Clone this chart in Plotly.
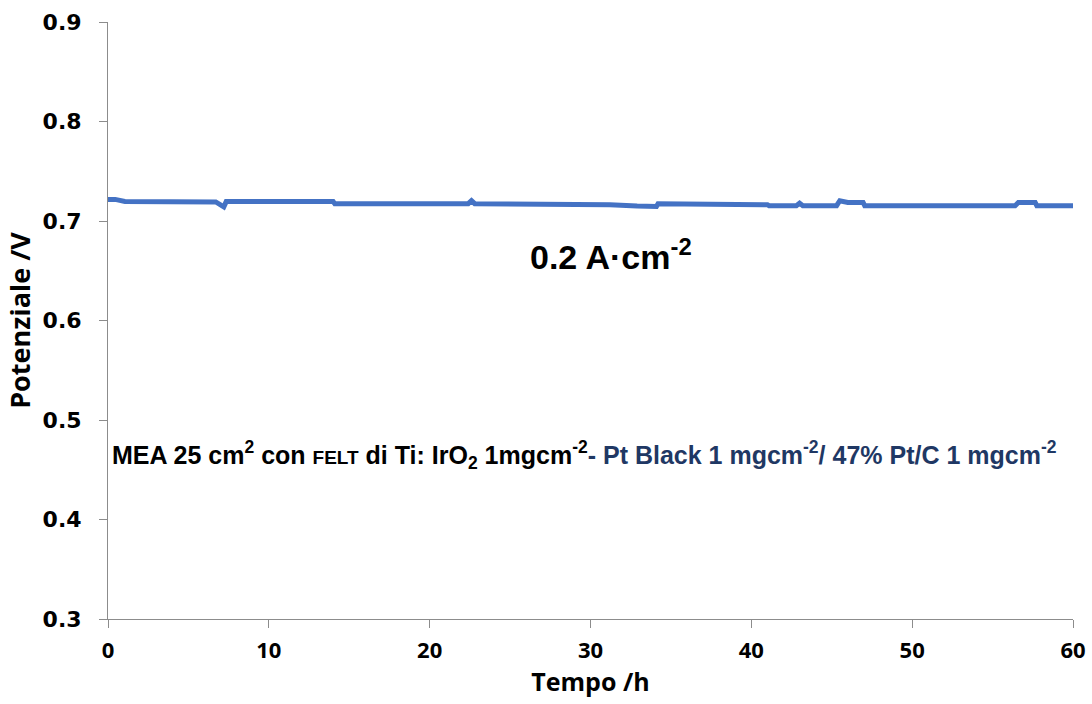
import plotly.graph_objects as go

# Time (h) and potential (V)
time_h = [0.0, 0.45, 1.05, 6.1, 6.7, 7.2, 7.35, 14.0, 14.1, 22.4, 22.6, 22.8,
          31.0, 31.2, 32.9, 33.9, 34.1, 34.2, 39.2, 39.3, 41.0, 41.1, 42.8, 43.0,
          43.2, 45.3, 45.5, 46.0, 46.95, 47.05, 56.4, 56.6, 57.65, 57.75, 60.0]
potential_v = [0.7217, 0.7217, 0.7197, 0.7196, 0.7192, 0.7142, 0.7195, 0.7195, 0.7174, 0.7174, 0.7204, 0.7174,
               0.7174, 0.7164, 0.7150, 0.7146, 0.7146, 0.7174, 0.7174, 0.7164, 0.7164, 0.7154, 0.7154, 0.7180,
               0.7154, 0.7154, 0.7204, 0.7186, 0.7186, 0.7154, 0.7154, 0.7186, 0.7186, 0.7154, 0.7154]

x_ticks = [0, 10, 20, 30, 40, 50, 60]
y_ticks = [0.3, 0.4, 0.5, 0.6, 0.7, 0.8, 0.9]

label_current = "<b>0.2 A·cm<sup>-2</sup></b>"
label_mea = ("<b>MEA 25 cm<sup>2</sup> con <span style='font-size:19px'>FELT</span> di Ti: IrO<sub>2</sub> 1mgcm<sup>-2</sup>"
             "<span style='color:#1F3864'>- Pt Black 1 mgcm<sup>-2</sup>/ 47% Pt/C 1 mgcm<sup>-2</sup></span></b>")

fig = go.Figure()
fig.add_trace(go.Scatter(x=time_h, y=potential_v, mode="lines",
                         line=dict(color="#4472C4", width=5), showlegend=False))

axis_col = "#8c8c8c"
sans = "Open Sans, DejaVu Sans Condensed"
fig.update_layout(
    width=1092, height=704,
    margin=dict(l=108, r=19, t=22, b=85),
    paper_bgcolor="white", plot_bgcolor="white",
    xaxis=dict(range=[0, 60], tickvals=x_ticks, ticktext=[str(v) for v in x_ticks],
               automargin=False,
               showgrid=False, zeroline=False, showline=True, linecolor=axis_col, linewidth=1,
               ticks="outside", ticklen=8, tickcolor=axis_col, ticklabelstandoff=4,
               tickfont=dict(family=sans, size=22, color="black", weight="bold"),
               title=dict(text="Tempo /h", standoff=5,
                          font=dict(family=sans, size=25, color="black", weight="bold"))),
    yaxis=dict(range=[0.3, 0.9], tickvals=y_ticks, ticktext=[f"{v:.1f}" for v in y_ticks],
               automargin=False,
               showgrid=False, zeroline=False, showline=True, linecolor=axis_col, linewidth=1,
               ticks="outside", ticklen=8, tickcolor=axis_col, ticklabelstandoff=13,
               tickfont=dict(family="DejaVu Sans", size=22, color="black", weight="bold"),
               title=dict(text="Potenziale /V", standoff=4,
                          font=dict(family=sans, size=27, color="black", weight="bold"))),
    annotations=[
        dict(x=31.3, y=0.666, xref="x", yref="y", text=label_current, showarrow=False,
             font=dict(family="Liberation Sans, Arial", size=34, color="black"), xanchor="center", yanchor="middle"),
        dict(x=0.1, y=0.465, xref="x", yref="y", text=label_mea, showarrow=False,
             font=dict(family="Liberation Sans, Arial", size=25, color="black"), xanchor="left", yanchor="middle"),
    ],
)

fig.write_html("out.html")
